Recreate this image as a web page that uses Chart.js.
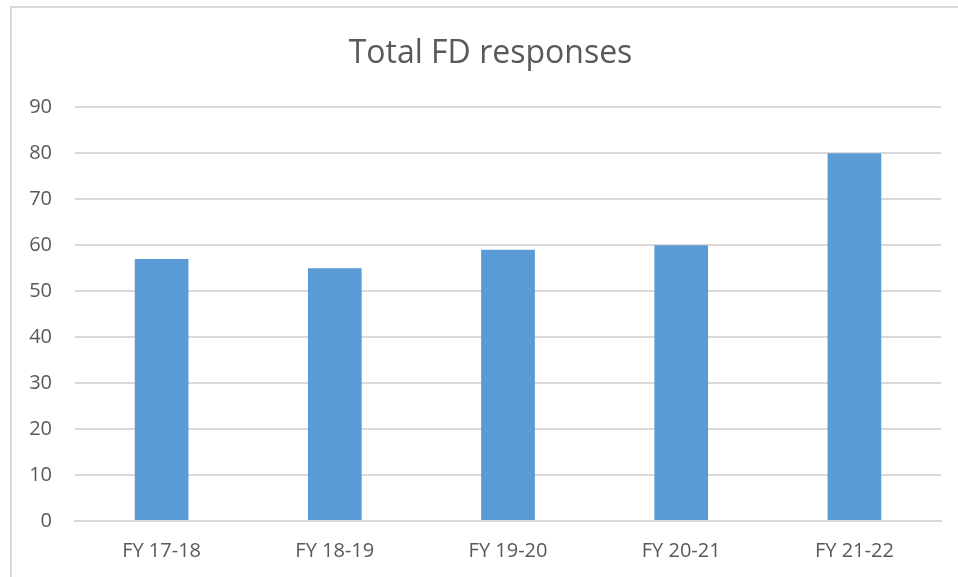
<!DOCTYPE html>
<html>
<head>
<meta charset="utf-8">
<script src="https://cdn.jsdelivr.net/npm/chart.js@4.4.0/dist/chart.umd.min.js"></script>
<style>
  html, body { margin: 0; padding: 0; background: #fff; }
  #frame {
    position: absolute; left: 10px; top: 6px; width: 960px; height: 580px;
    border-left: 2px solid #d9d9d9; border-top: 2px solid #d9d9d9;
  }
  #wrap { position: absolute; left: 0; top: 0; width: 946px; height: 569px; }
</style>
</head>
<body>
<div id="frame"><div id="wrap"><canvas id="myChart"></canvas></div></div>
<script>
const categories = ['FY 17-18', 'FY 18-19', 'FY 19-20', 'FY 20-21', 'FY 21-22']
const responses = [57, 55, 59, 60, 80]
const yTicks = [0, 10, 20, 30, 40, 50, 60, 70, 80, 90]

const textColor = '#595959'
const gridColor = '#d9d9d9'
const fontFamily = "'Open Sans', sans-serif"

// nudge the title a bit right, it isn't centred on the canvas in the original
const titleShift = {
  id: 'titleShift',
  afterLayout(chart) {
    if (chart.titleBlock) {
      chart.titleBlock.left += 14
      chart.titleBlock.right += 14
    }
  },
}

const ctx = document.getElementById('myChart').getContext('2d')
new Chart(ctx, {
  type: 'bar',
  data: {
    labels: categories,
    datasets: [{
      data: responses,
      backgroundColor: '#5b9bd5',
      borderWidth: 0,
      categoryPercentage: 1,
      barPercentage: 0.31,
    }],
  },
  plugins: [titleShift],
  options: {
    responsive: true,
    maintainAspectRatio: false,
    animation: false,
    layout: { padding: { left: 0, right: 17, top: 0, bottom: 0 } },
    plugins: {
      legend: { display: false },
      tooltip: { enabled: false },
      title: {
        display: true,
        text: 'Total FD responses',
        color: textColor,
        font: { family: fontFamily, size: 32, weight: 'normal' },
        padding: { top: 27, bottom: 34 },
      },
    },
    scales: {
      x: {
        grid: { display: false, drawTicks: false },
        border: { display: true, color: gridColor, width: 2 },
        ticks: { color: textColor, font: { family: fontFamily, size: 20 }, padding: 18 },
        afterFit: (scale) => { scale.height = 56 },
      },
      y: {
        min: 0,
        max: 90,
        afterBuildTicks: (scale) => { scale.ticks = yTicks.map(v => ({ value: v })) },
        grid: { color: gridColor, lineWidth: 2, drawTicks: false },
        border: { display: false },
        ticks: { color: textColor, font: { family: fontFamily, size: 20 }, padding: 23 },
        afterFit: (scale) => { scale.width = 63 },
      },
    },
  },
})
</script>
</body>
</html>
